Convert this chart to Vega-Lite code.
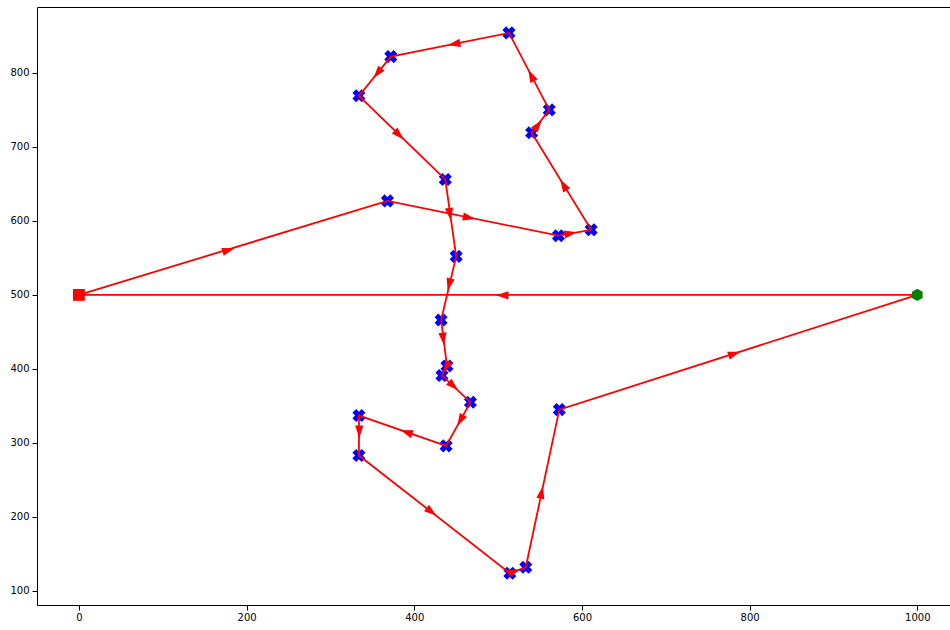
{
  "$schema": "https://vega.github.io/schema/vega-lite/v6.json",
  "width": 913,
  "height": 598,
  "autosize": {"type": "none"},
  "padding": {"left": 37, "top": 7, "right": 0, "bottom": 25},
  "background": "white",
  "config": {
    "view": {"stroke": "#000000", "strokeWidth": 1},
    "axis": {
      "grid": false,
      "domain": false,
      "labelFont": "DejaVu Sans",
      "labelFontSize": 10,
      "labelColor": "#000000",
      "tickColor": "#000000",
      "tickSize": 5,
      "tickWidth": 1,
      "title": null
    }
  },
  "datasets": {
    "path": [
      {"step": 0, "x": 0, "y": 500},
      {"step": 1, "x": 368, "y": 627},
      {"step": 2, "x": 572, "y": 580},
      {"step": 3, "x": 611, "y": 588},
      {"step": 4, "x": 540, "y": 719},
      {"step": 5, "x": 561, "y": 750},
      {"step": 6, "x": 513, "y": 854},
      {"step": 7, "x": 372, "y": 822},
      {"step": 8, "x": 334, "y": 769},
      {"step": 9, "x": 437, "y": 656},
      {"step": 10, "x": 450, "y": 552},
      {"step": 11, "x": 432, "y": 466},
      {"step": 12, "x": 439, "y": 404},
      {"step": 13, "x": 433, "y": 391},
      {"step": 14, "x": 467, "y": 355},
      {"step": 15, "x": 438, "y": 296},
      {"step": 16, "x": 334, "y": 337},
      {"step": 17, "x": 334, "y": 283},
      {"step": 18, "x": 514, "y": 124},
      {"step": 19, "x": 533, "y": 132},
      {"step": 20, "x": 573, "y": 345},
      {"step": 21, "x": 1000, "y": 500},
      {"step": 22, "x": 0, "y": 500}
    ],
    "arrows": [
      {"x": 178.5, "y": 560.7, "angle": 73.0},
      {"x": 465.5, "y": 604.3, "angle": 101.4},
      {"x": 586.6, "y": 583.0, "angle": 80.0},
      {"x": 577.9, "y": 648.7, "angle": -31.3},
      {"x": 547.7, "y": 729.6, "angle": 37.4},
      {"x": 539.4, "y": 796.5, "angle": -27.2},
      {"x": 447.4, "y": 838.9, "angle": -101.2},
      {"x": 356.1, "y": 799.6, "angle": -141.1},
      {"x": 382.0, "y": 716.1, "angle": 134.3},
      {"x": 442.5, "y": 608.9, "angle": 172.1},
      {"x": 441.6, "y": 513.9, "angle": -166.7},
      {"x": 434.6, "y": 440.3, "angle": 172.6},
      {"x": 438.1, "y": 402.3, "angle": -151.7},
      {"x": 446.7, "y": 376.9, "angle": 132.6},
      {"x": 454.9, "y": 330.4, "angle": -150.4},
      {"x": 390.5, "y": 314.5, "angle": -70.9},
      {"x": 334.4, "y": 314.9, "angle": 179.6},
      {"x": 420.6, "y": 206.7, "angle": 127.9},
      {"x": 519.2, "y": 126.3, "angle": 70.0},
      {"x": 551.9, "y": 233.0, "angle": 11.9},
      {"x": 781.9, "y": 420.6, "angle": 72.2},
      {"x": 504.8, "y": 499.5, "angle": -90}
    ]
  },
  "encoding": {
    "x": {
      "field": "x",
      "type": "quantitative",
      "scale": {"domain": [-50, 1039], "nice": false, "zero": false},
      "axis": {"values": [0, 200, 400, 600, 800, 1000], "format": "d", "labelPadding": 2}
    },
    "y": {
      "field": "y",
      "type": "quantitative",
      "scale": {"domain": [81, 889], "nice": false, "zero": false},
      "axis": {"values": [100, 200, 300, 400, 500, 600, 700, 800], "format": "d", "labelPadding": 3}
    }
  },
  "layer": [
    {
      "data": {"name": "path"},
      "transform": [{"filter": "datum.step >= 1 && datum.step <= 20"}],
      "mark": {"type": "point", "shape": "cross", "angle": 45, "filled": true, "size": 175, "color": "#0000ff", "opacity": 1}
    },
    {
      "data": {"name": "path"},
      "mark": {"type": "line", "color": "#ff0000", "strokeWidth": 1.8},
      "encoding": {"order": {"field": "step", "type": "quantitative"}}
    },
    {
      "data": {"name": "arrows"},
      "mark": {"type": "point", "shape": "M0,-1L0.65,1L-0.65,1Z", "filled": true, "size": 160, "color": "#ff0000", "opacity": 1},
      "encoding": {"angle": {"field": "angle", "type": "quantitative", "scale": null}}
    },
    {
      "data": {"name": "path"},
      "transform": [{"filter": "datum.step == 0"}],
      "mark": {"type": "point", "shape": "square", "filled": true, "size": 140, "color": "#ff0000", "opacity": 1}
    },
    {
      "data": {"name": "path"},
      "transform": [{"filter": "datum.step == 21"}],
      "mark": {"type": "point", "shape": "M0,-1L0.866,-0.5L0.866,0.5L0,1L-0.866,0.5L-0.866,-0.5Z", "filled": true, "size": 150, "color": "#008000", "opacity": 1}
    }
  ]
}
